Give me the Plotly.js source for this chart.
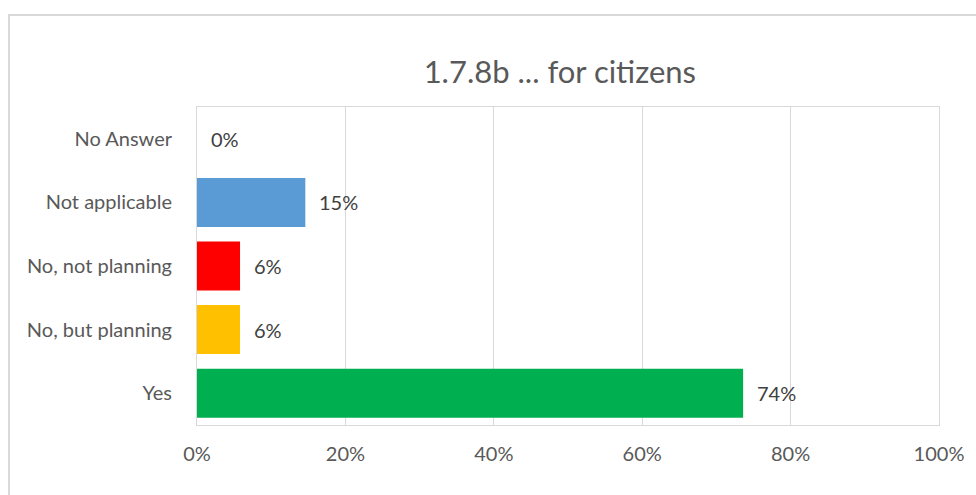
<!DOCTYPE html>
<html>
<head>
<meta charset="utf-8">
<script src="https://cdn.plot.ly/plotly-3.0.1.min.js"></script>
<style>
html,body{margin:0;padding:0;background:#fff;}
#wrap{position:relative;width:976px;height:495px;overflow:hidden;}
#chart{width:976px;height:495px;}
#frame{position:absolute;left:8px;top:14px;width:980px;height:500px;border:2px solid #d9d9d9;box-sizing:border-box;pointer-events:none;}
</style>
</head>
<body>
<div id="wrap"><div id="chart"></div><div id="frame"></div></div>
<script>
const categories = ["Yes", "No, but planning", "No, not planning", "Not applicable", "No Answer"];
const values = [0.736, 0.058, 0.058, 0.146, 0.0];
const barColors = ["#00b050", "#ffc000", "#ff0000", "#5b9bd5", "#5b9bd5"];
const xTickVals = [0, 0.2, 0.4, 0.6, 0.8, 1.0];
const xTickText = ["0%", "20%", "40%", "60%", "80%", "100%"];
const titleText = "1.7.8b ... for citizens";

const FONT = "Lato, 'Open Sans', sans-serif";

const trace = {
  type: "bar",
  orientation: "h",
  y: categories,
  x: values,
  marker: {color: barColors, line: {width: 0}},
  hoverinfo: "none"
};

const annotations = categories.map((c, i) => ({
  x: values[i], y: c, xref: "x", yref: "y",
  text: Math.round(values[i] * 100) + "%",
  showarrow: false, xanchor: "left", yanchor: "middle",
  xshift: 12,
  font: {family: FONT, size: 20, color: "#404040"}
}));

const layout = {
  width: 976, height: 495,
  margin: {l: 197, r: 37, t: 107, b: 70},
  paper_bgcolor: "#fff", plot_bgcolor: "#fff",
  title: {text: titleText, x: 0.489, xref: "paper", xanchor: "center", y: 0.855, yref: "container", yanchor: "middle",
          font: {family: FONT, size: 31, color: "#595959"}},
  bargap: 0.23,
  showlegend: false,
  xaxis: {
    range: [0, 1], tickvals: xTickVals, ticktext: xTickText,
    showgrid: true, gridcolor: "#d9d9d9", gridwidth: 1,
    zeroline: false, showline: true, linecolor: "#d9d9d9", mirror: true, linewidth: 1,
    ticks: "", ticklabelstandoff: 11,
    tickfont: {family: FONT, size: 20, color: "#595959"},
    fixedrange: true
  },
  yaxis: {
    categoryorder: "array", categoryarray: categories,
    showgrid: false, zeroline: false, showline: true, linecolor: "#d9d9d9", mirror: true, linewidth: 1,
    ticks: "", ticklabelstandoff: 20,
    tickfont: {family: FONT, size: 20, color: "#595959"},
    fixedrange: true
  },
  annotations: annotations
};

Plotly.newPlot("chart", [trace], layout, {displayModeBar: false, staticPlot: true});
</script>
</body>
</html>
